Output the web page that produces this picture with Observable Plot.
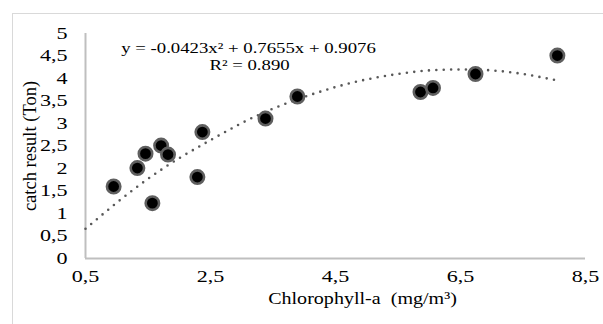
<!DOCTYPE html>
<html><head><meta charset="utf-8">
<script src="https://cdn.jsdelivr.net/npm/d3@7"></script>
<script src="https://cdn.jsdelivr.net/npm/@observablehq/plot@0.6"></script>
<style>
body{margin:0;background:#fff;}
#wrap{position:relative;width:603px;height:324px;overflow:hidden;background:#fff;}
#border{position:absolute;left:12px;top:13px;width:620px;height:340px;border:1px solid #d9d9d9;box-sizing:border-box;}
#chart{position:absolute;left:0;top:0;}
#chart svg, #chart svg text, #chart svg tspan, #chart svg g {font-family:"Liberation Serif","Times New Roman",serif !important;}
</style></head><body>
<div id="wrap"><div id="border"></div><div id="chart"></div></div>
<script>
// Data
const chlorophyll = [0.95, 1.33, 1.46, 1.57, 1.71, 1.82, 2.29, 2.37, 3.38, 3.89, 5.86, 6.06, 6.74, 8.05];
const catchTon    = [1.60, 2.01, 2.33, 1.23, 2.51, 2.31, 1.81, 2.81, 3.11, 3.60, 3.70, 3.79, 4.10, 4.51];
// Polynomial trendline as drawn in the reference
const trendX = [0.5, 1, 1.5, 2, 2.5, 3, 3.5, 4, 4.5, 5, 5.5, 6, 6.5, 7, 7.5, 8];
const trendY = [0.66, 1.24, 1.77, 2.23, 2.63, 3.01, 3.33, 3.59, 3.81, 3.98, 4.10, 4.18, 4.20, 4.18, 4.10, 3.97];
const xTicks = [0.5, 2.5, 4.5, 6.5, 8.5];
const yTicks = [0, 0.5, 1, 1.5, 2, 2.5, 3, 3.5, 4, 4.5, 5];
const equationText = "y = -0.0423x² + 0.7655x + 0.9076";
const r2Text = "R² = 0.890";
const xTitle = "Chlorophyll-a\u00a0\u00a0(mg/m³)";
const yTitle = "catch result (Ton)";

const fmt = d => String(d).replace(".", ",");
const points = chlorophyll.map((x, i) => ({x, y: catchTon[i]}));
const trend = trendX.map((x, i) => ({x, y: trendY[i]}));

const plot = Plot.plot({
  width: 603, height: 324,
  marginLeft: 85, marginRight: 18, marginTop: 33, marginBottom: 66,
  style: {fontFamily: "Liberation Serif, serif", fontSize: "17px", color: "#000", background: "transparent", overflow: "visible"},
  x: {domain: [0.5, 8.5]},
  y: {domain: [0, 5]},
  marks: [
    Plot.axisY({ticks: yTicks, tickFormat: fmt, tickSize: 0, tickPadding: 18, label: null, fontSize: 17}),
    Plot.axisX({ticks: xTicks, tickFormat: fmt, tickSize: 0, tickPadding: 11, label: null, fontSize: 17}),
    Plot.ruleX([0.5], {y1: 0, y2: 5, stroke: "#bfbfbf", strokeWidth: 2}),
    Plot.ruleY([0], {x1: 0.5, x2: 8.5, stroke: "#bfbfbf", strokeWidth: 2}),
    Plot.line(trend, {x: "x", y: "y", curve: "natural", stroke: "#595959", strokeWidth: 2.6, strokeDasharray: "0 7.4", strokeLinecap: "round"}),
    Plot.dot(points, {x: "x", y: "y", r: 6.7, fill: "#000", stroke: "#5f5f5f", strokeWidth: 2.6}),
    Plot.text([equationText], {text: d => d, frameAnchor: "top-left", dx: 163, dy: 15, textAnchor: "middle", lineAnchor: "middle", fontSize: 15}),
    Plot.text([r2Text], {text: d => d, frameAnchor: "top-left", dx: 164, dy: 32, textAnchor: "middle", lineAnchor: "middle", fontSize: 15}),
    Plot.text([yTitle], {text: d => d, frameAnchor: "left", dx: -55, rotate: -90, textAnchor: "middle", lineAnchor: "middle", fontSize: 18.5}),
    Plot.text([xTitle], {text: d => d, frameAnchor: "bottom", dx: 27, dy: 40, textAnchor: "middle", lineAnchor: "middle", fontSize: 17})
  ]
});
document.getElementById("chart").appendChild(plot);

// The reference's lettering is horizontally wide: widen horizontal texts to match
const widen = new Map([[equationText, 1.25], [r2Text, 1.25], [xTitle, 1.18]]);
d3.select(plot).selectAll("text").each(function() {
  const t = this.getAttribute("transform") || "";
  if (t.includes("rotate")) return;
  const k = widen.has(this.textContent) ? widen.get(this.textContent) : 1.3;
  const len = this.getComputedTextLength();
  if (len > 0) {
    this.setAttribute("textLength", len * k);
    this.setAttribute("lengthAdjust", "spacingAndGlyphs");
  }
});
</script>
</body></html>
